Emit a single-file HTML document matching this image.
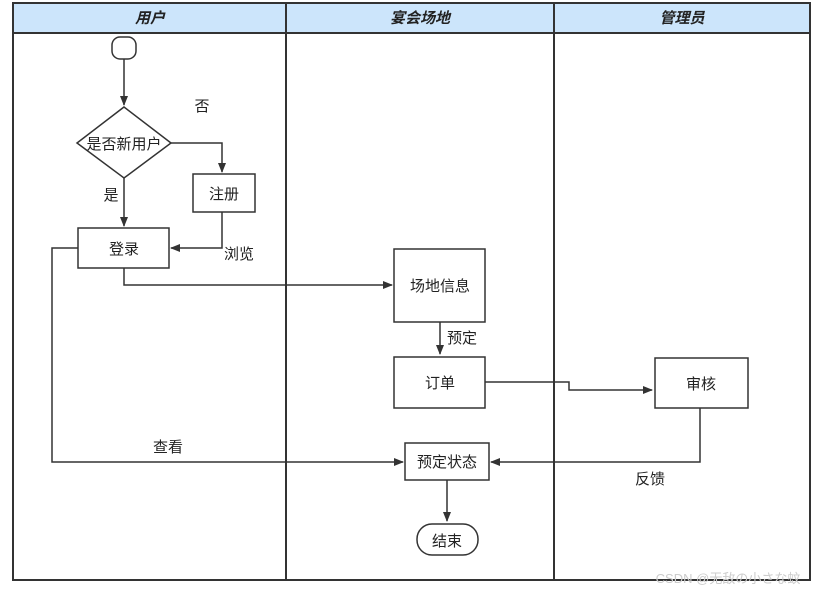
<!DOCTYPE html>
<html><head><meta charset="utf-8"><style>
body{margin:0;background:#fff;width:821px;height:594px;overflow:hidden}
text{font-family:"Liberation Sans","Noto Sans CJK SC",sans-serif;font-size:15px;fill:#222}
</style></head><body>
<svg width="821" height="594" viewBox="0 0 821 594">
<defs><marker id="a" markerWidth="10" markerHeight="10" refX="9" refY="5" orient="auto" markerUnits="userSpaceOnUse"><path d="M0,1 L10,5 L0,9 Z" fill="#333"/></marker></defs>
<rect x="13" y="3" width="797" height="30" fill="#cce5fb"/>
<line x1="13" y1="3" x2="810" y2="3" stroke="#5a4a6a" stroke-width="2"/>
<rect x="13" y="3" width="797" height="577" fill="none" stroke="#333" stroke-width="2"/>
<line x1="13" y1="33" x2="810" y2="33" stroke="#333" stroke-width="2"/>
<line x1="286" y1="3" x2="286" y2="580" stroke="#333" stroke-width="2"/>
<line x1="554" y1="3" x2="554" y2="580" stroke="#333" stroke-width="2"/>
<g style="font-weight:bold;font-style:italic" text-anchor="middle">
<text x="150" y="23">用户</text><text x="420" y="23">宴会场地</text><text x="682" y="23">管理员</text></g>
<g fill="none" stroke="#333" stroke-width="1.5">
<rect x="112" y="37" width="24" height="22" rx="8" fill="#fff"/>
<path d="M124,59 V105" marker-end="url(#a)"/>
<polygon points="124,107 171,143 124,178 77,143" fill="#fff"/>
<path d="M171,143 H222 V172" marker-end="url(#a)"/>
<path d="M124,178 V226" marker-end="url(#a)"/>
<rect x="193" y="174" width="62" height="38" fill="#fff"/>
<path d="M222,212 V248 H171" marker-end="url(#a)"/>
<rect x="78" y="228" width="91" height="40" fill="#fff"/>
<path d="M124,268 V285 H392" marker-end="url(#a)"/>
<path d="M78,248 H52 V462 H403" marker-end="url(#a)"/>
<rect x="394" y="249" width="91" height="73" fill="#fff"/>
<path d="M440,322 V354" marker-end="url(#a)"/>
<rect x="394" y="357" width="91" height="51" fill="#fff"/>
<path d="M485,382 H569 V390 H652" marker-end="url(#a)"/>
<rect x="655" y="358" width="93" height="50" fill="#fff"/>
<path d="M700,408 V462 H491" marker-end="url(#a)"/>
<rect x="405" y="443" width="84" height="37" fill="#fff"/>
<path d="M447,480 V521" marker-end="url(#a)"/>
<rect x="417" y="524" width="61" height="31" rx="15" fill="#fff"/>
</g>
<g text-anchor="middle">
<text x="124" y="149">是否新用户</text>
<text x="202" y="111">否</text>
<text x="111" y="200">是</text>
<text x="224" y="199">注册</text>
<text x="124" y="254">登录</text>
<text x="239" y="259">浏览</text>
<text x="440" y="291">场地信息</text>
<text x="462" y="343">预定</text>
<text x="440" y="388">订单</text>
<text x="701" y="389">审核</text>
<text x="168" y="452">查看</text>
<text x="447" y="467">预定状态</text>
<text x="650" y="484">反馈</text>
<text x="447" y="546">结束</text>
<text x="728" y="583" style="font-size:13px;fill:#ccc">CSDN @无敌の小さな蚊</text>
</g>
</svg>
</body></html>
